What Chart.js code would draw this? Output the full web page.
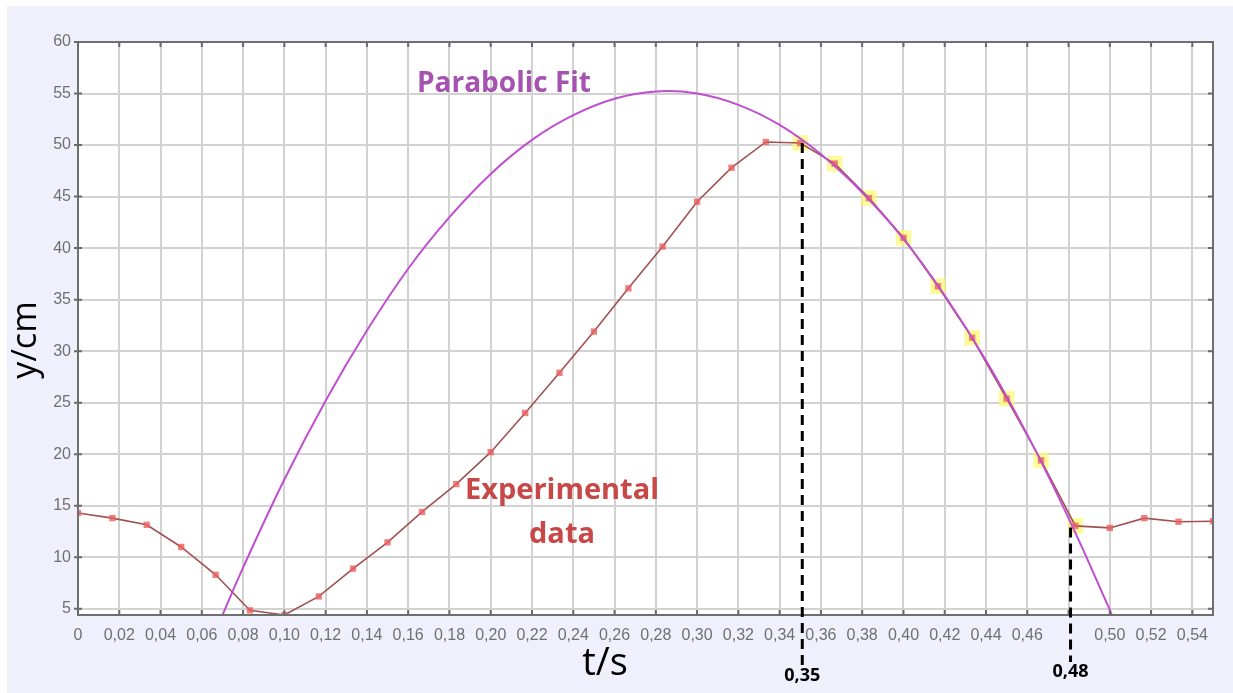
<!DOCTYPE html>
<html>
<head>
<meta charset="utf-8">
<script src="https://cdn.jsdelivr.net/npm/chart.js@4.4.1/dist/chart.umd.min.js"></script>
<style>
  html, body { margin: 0; padding: 0; background: #ffffff; }
  #wrap { width: 1233px; height: 693px; position: relative; }
  canvas { display: block; }
</style>
</head>
<body>
<div id="wrap"><canvas id="c" width="1233" height="693"></canvas></div>
<script>
// ---- Data ----
// Experimental data: time (s) and height (cm)
const tExp = [0, 0.0167, 0.0333, 0.05, 0.0667, 0.0833, 0.10, 0.1167, 0.1333, 0.15,
              0.1667, 0.1833, 0.20, 0.2167, 0.2333, 0.25, 0.2667, 0.2833, 0.30, 0.3167,
              0.3333, 0.35, 0.3667, 0.3833, 0.40, 0.4167, 0.4333, 0.45, 0.4667, 0.4833,
              0.50, 0.5167, 0.5333, 0.55];
const yExp = [14.3, 13.8, 13.15, 11.0, 8.3, 4.85, 4.4, 6.2, 8.9, 11.45,
              14.4, 17.1, 20.2, 24.0, 27.9, 31.9, 36.1, 40.15, 44.5, 47.8,
              50.3, 50.2, 48.2, 44.85, 41.0, 36.3, 31.3, 25.4, 19.4, 13.05,
              12.85, 13.8, 13.45, 13.5];
// indices of the points used for the fit (highlighted in yellow)
const fitFirst = 21;
const fitLast = 29;

// Parabolic fit curve
const tFit = [0.070, 0.08, 0.10, 0.12, 0.14, 0.16, 0.18, 0.20, 0.22, 0.24, 0.26, 0.28,
              0.30, 0.32, 0.34, 0.36, 0.38, 0.40, 0.42, 0.44, 0.46, 0.48, 0.50, 0.501];
const yFit = [4.4, 9.0, 17.55, 25.2, 32.0, 38.0, 43.0, 47.2, 50.5, 52.9, 54.5, 55.2,
              55.0, 53.9, 51.95, 49.1, 45.4, 40.9, 35.4, 29.1, 21.9, 13.8, 4.9, 4.4];

// Axis ticks
const xMin = 0, xMax = 0.55, xStep = 0.02;
const yMin = 4.4, yMax = 60, yStep = 5;
const xHiddenTick = 0.48;

// Marked times (dashed lines)
const markT = [0.35, 0.48];
const markTop = [50.2, 12.9];
const markLabels = ['0,35', '0,48'];

// ---- Build datasets ----
const expPts = tExp.map((t, i) => ({ x: t, y: yExp[i] }));
const fitPts = tFit.map((t, i) => ({ x: t, y: yFit[i] }));
const hiPts = expPts.slice(fitFirst, fitLast + 1);

const FONT = '"Liberation Sans", Arial, sans-serif';
const TFONT = '"Open Sans", "Noto Sans", sans-serif';

const decor = {
  id: 'decor',
  beforeDraw(chart) {
    const ctx = chart.ctx, a = chart.chartArea;
    ctx.save();
    ctx.fillStyle = '#ffffff';
    ctx.fillRect(0, 0, chart.width, chart.height);
    ctx.fillStyle = '#f0f0fc';
    ctx.fillRect(7, 6, chart.width - 7, chart.height - 6);
    ctx.fillStyle = '#ffffff';
    ctx.fillRect(a.left, a.top, a.right - a.left, a.bottom - a.top);
    ctx.restore();
  },
  afterDatasetsDraw(chart) {
    const ctx = chart.ctx, a = chart.chartArea;
    const xs = chart.scales.x, ys = chart.scales.y;
    ctx.save();
    ctx.strokeStyle = '#6f6f6f';
    ctx.lineWidth = 2;
    ctx.strokeRect(a.left, a.top, a.right - a.left, a.bottom - a.top);
    ctx.strokeStyle = '#6a6a6a';
    xs.ticks.forEach(tk => {
      const px = xs.getPixelForValue(tk.value);
      ctx.beginPath();
      ctx.moveTo(px, a.top); ctx.lineTo(px, a.top + 5);
      ctx.moveTo(px, a.bottom); ctx.lineTo(px, a.bottom - 5);
      ctx.stroke();
    });
    ys.ticks.forEach(tk => {
      const py = ys.getPixelForValue(tk.value);
      ctx.beginPath();
      ctx.moveTo(a.left - 4, py); ctx.lineTo(a.left + 4, py);
      ctx.moveTo(a.right, py); ctx.lineTo(a.right - 5, py);
      ctx.stroke();
    });
    ctx.restore();
  },
  afterDraw(chart) {
    const ctx = chart.ctx;
    const xs = chart.scales.x, ys = chart.scales.y;
    ctx.save();
    ctx.strokeStyle = '#000000';
    ctx.lineWidth = 3;
    ctx.setLineDash([10, 6]);
    markT.forEach((t, i) => {
      const px = xs.getPixelForValue(t) + 2;
      const py = ys.getPixelForValue(markTop[i]);
      ctx.beginPath();
      ctx.moveTo(px, py);
      ctx.lineTo(px, i === 0 ? 668 : 662);
      ctx.stroke();
    });
    ctx.setLineDash([]);
    ctx.fillStyle = '#000000';
    ctx.font = 'bold 18px ' + TFONT;
    ctx.textAlign = 'center';
    ctx.textBaseline = 'middle';
    markT.forEach((t, i) => {
      const px = xs.getPixelForValue(t);
      ctx.fillText(markLabels[i], px + 2, i === 0 ? 676 : 672);
    });
    ctx.font = '38px ' + TFONT;
    ctx.fillText('t/s', 605, 664);
    ctx.save();
    ctx.translate(26, 340);
    ctx.rotate(-Math.PI / 2);
    ctx.font = '34px ' + TFONT;
    ctx.fillText('y/cm', 0, 0);
    ctx.restore();
    ctx.font = 'bold 28px ' + TFONT;
    ctx.fillStyle = '#a552b0';
    ctx.textAlign = 'left';
    ctx.fillText('Parabolic Fit', 417, 84);
    ctx.font = 'bold 29px ' + TFONT;
    ctx.fillStyle = '#c84848';
    ctx.textAlign = 'center';
    ctx.fillText('Experimental', 562, 491);
    ctx.fillText('data', 562, 535);
    ctx.restore();
  }
};

new Chart(document.getElementById('c'), {
  type: 'scatter',
  data: {
    datasets: [
      {
        label: 'Parabolic Fit',
        data: fitPts,
        showLine: true,
        borderColor: '#c04fcf',
        borderWidth: 2,
        pointRadius: 0,
        tension: 0.4,
        fill: false,
        order: 0
      },
      {
        label: 'Experimental data',
        data: expPts,
        showLine: true,
        borderColor: '#a05252',
        borderWidth: 1.6,
        pointStyle: 'rect',
        pointRadius: 4.5,
        pointBackgroundColor: 'rgba(235,95,95,0.8)',
        pointBorderWidth: 0,
        tension: 0,
        order: 1
      },
      {
        label: 'Fit points',
        data: hiPts,
        showLine: false,
        pointStyle: 'rect',
        pointRadius: 11,
        pointBackgroundColor: 'rgba(255,248,110,0.7)',
        pointBorderWidth: 0,
        order: 2
      }
    ]
  },
  options: {
    responsive: false,
    animation: false,
    events: [],
    layout: { padding: { left: 0, top: 42, right: 20, bottom: 0 } },
    plugins: { legend: { display: false }, tooltip: { enabled: false } },
    scales: {
      x: {
        type: 'linear',
        min: xMin, max: xMax,
        afterFit(scale) { scale.height = 78; },
        grid: { color: '#d2d2d2', lineWidth: 2, drawTicks: false },
        border: { display: false },
        ticks: {
          stepSize: xStep,
          includeBounds: false,
          autoSkip: false,
          maxRotation: 0,
          padding: 11,
          color: '#707070',
          font: { family: FONT, size: 16 },
          callback(v) {
            if (Math.abs(v - xHiddenTick) < 1e-6) return '';
            if (Math.abs(v) < 1e-9) return '0';
            return v.toFixed(2).replace('.', ',');
          }
        }
      },
      y: {
        type: 'linear',
        min: yMin, max: yMax,
        afterFit(scale) { scale.width = 78; },
        grid: { color: '#d2d2d2', lineWidth: 2, drawTicks: false },
        border: { display: false },
        ticks: {
          stepSize: yStep,
          includeBounds: false,
          padding: 7,
          color: '#707070',
          font: { family: FONT, size: 16 },
          callback(v) { return String(v); }
        }
      }
    }
  },
  plugins: [decor]
});
</script>
</body>
</html>
